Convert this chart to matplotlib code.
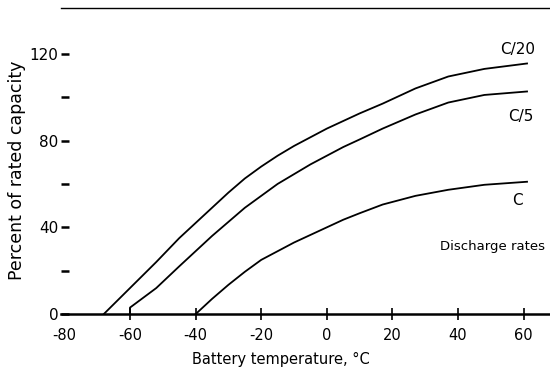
import numpy as np
import matplotlib.pyplot as plt

plt.rcParams['font.family'] = ['DejaVu Sans']
plt.rcParams['axes.unicode_minus'] = False

# readings (temperature in deg C, percent of rated capacity)
temp_c20 = [-68, -60, -52, -45, -40, -35, -30, -25, -20, -15, -10, -5, 0, 5, 10, 17, 27, 37, 48, 61]
cap_c20 = [0, 12, 24, 35, 42, 49, 56, 62.5, 68, 73, 77.5, 81.5, 85.5, 89, 92.5, 97, 104, 109.5, 113, 115.5]

temp_c5 = [-60, -60, -52, -45, -40, -35, -30, -25, -20, -15, -10, -5, 0, 5, 10, 17, 27, 37, 48, 61]
cap_c5 = [0, 3, 12, 22, 29, 36, 42.5, 49, 54.5, 60, 64.5, 69, 73, 77, 80.5, 85.5, 92, 97.5, 101, 102.6]

temp_c1 = [-40, -35, -30, -25, -20, -15, -10, -5, 0, 5, 10, 17, 27, 37, 48, 61]
cap_c1 = [0, 7, 13.5, 19.5, 25, 29, 33, 36.5, 40, 43.5, 46.5, 50.5, 54.5, 57.3, 59.6, 61]

xticks = [-80, -60, -40, -20, 0, 20, 40, 60]
yticks = [0, 20, 40, 60, 80, 100, 120]
ylabels = ['0', '', '40', '', '80', '', '120']

fig = plt.figure(figsize=(5.5, 3.7), dpi=100)
ax = fig.add_axes((0.111, 0.151, 0.889, 0.827))

for t, c in [(temp_c20, cap_c20), (temp_c5, cap_c5), (temp_c1, cap_c1)]:
    ax.plot(t, c, color='black', lw=1.3)

ax.set_xlim(-81, 68)
ax.set_ylim(0, 141)

ax.spines['left'].set_visible(False)
ax.spines['right'].set_visible(False)
ax.spines['top'].set_linewidth(1.0)
ax.spines['bottom'].set_linewidth(1.8)

ax.set_xticks(xticks)
ax.set_xticklabels([str(v) for v in xticks])
ax.tick_params(axis='x', direction='inout', length=8, width=1.2, labelsize=10.5, pad=6)
ax.xaxis.get_major_ticks()[0].tick1line.set_visible(False)

ax.set_yticks(yticks)
ax.set_yticklabels(ylabels)
ax.tick_params(axis='y', direction='in', length=6, width=1.8, labelsize=11, pad=2)

ax.set_xlabel('Battery temperature, °C', fontsize=10.5)
ax.xaxis.set_label_coords(0.45, -0.125)
ax.set_ylabel('Percent of rated capacity', fontsize=12.5)
ax.yaxis.set_label_coords(-0.072, 0.47)

ax.text(58, 122, 'C/20', fontsize=11, ha='center', va='center')
ax.text(59, 91, 'C/5', fontsize=11, ha='center', va='center')
ax.text(58, 52.5, 'C', fontsize=11, ha='center', va='center')
ax.text(50.5, 31, 'Discharge rates', fontsize=9.5, ha='center', va='center')

fig.savefig('out.png', dpi=100)
